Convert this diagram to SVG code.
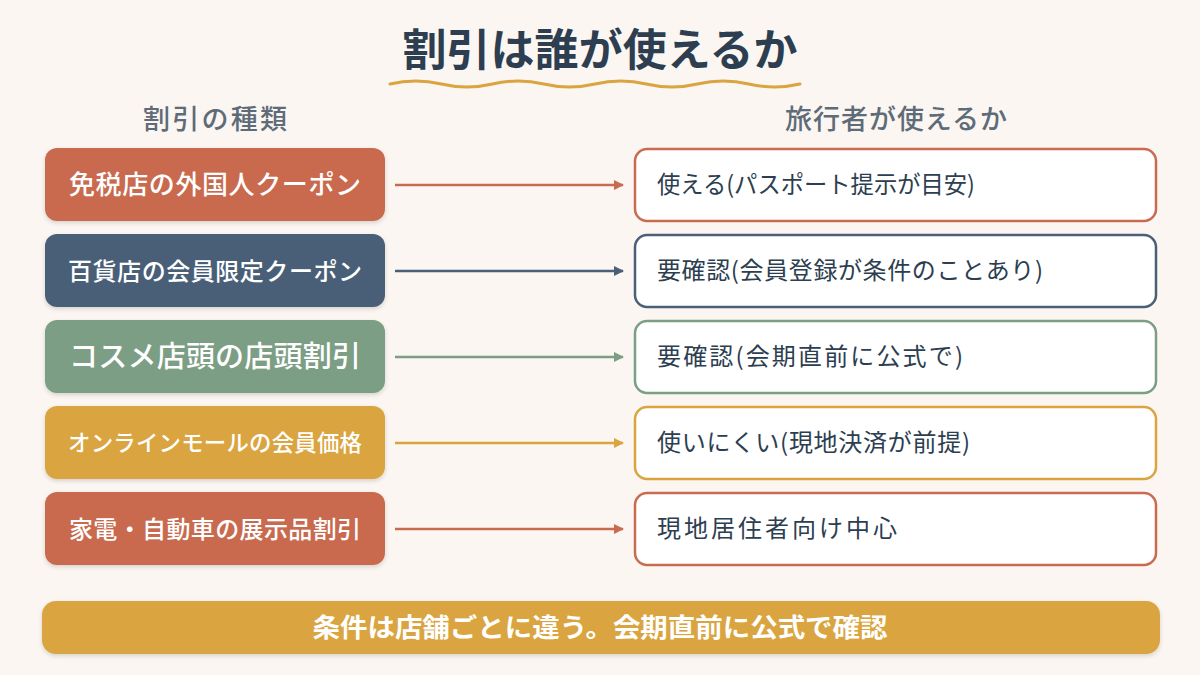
<svg xmlns="http://www.w3.org/2000/svg" width="1200" height="675" viewBox="0 0 1200 675">
  <defs>
    <filter id="sh" x="-10%" y="-20%" width="120%" height="150%">
      <feDropShadow dx="0" dy="2" stdDeviation="2" flood-color="#000" flood-opacity="0.15"/>
    </filter>
    <marker id="a-terra" viewBox="0 0 10 10" refX="9" refY="5" markerWidth="10" markerHeight="10" markerUnits="userSpaceOnUse" orient="auto"><path d="M0,0 L10,5 L0,10 Z" fill="#C96B50"/></marker>
    <marker id="a-slate" viewBox="0 0 10 10" refX="9" refY="5" markerWidth="10" markerHeight="10" markerUnits="userSpaceOnUse" orient="auto"><path d="M0,0 L10,5 L0,10 Z" fill="#4A5F78"/></marker>
    <marker id="a-sage" viewBox="0 0 10 10" refX="9" refY="5" markerWidth="10" markerHeight="10" markerUnits="userSpaceOnUse" orient="auto"><path d="M0,0 L10,5 L0,10 Z" fill="#7C9E84"/></marker>
    <marker id="a-must" viewBox="0 0 10 10" refX="9" refY="5" markerWidth="10" markerHeight="10" markerUnits="userSpaceOnUse" orient="auto"><path d="M0,0 L10,5 L0,10 Z" fill="#DAA540"/></marker>
  </defs>
  <style>
    text { font-family: "Noto Sans CJK JP", "Noto Sans", sans-serif; }
    .title { font-size: 44px; font-weight: 700; fill: #2C3E50; text-anchor: middle; }
    .head { font-size: 27px; font-weight: 500; fill: #5E6B78; text-anchor: middle; }
    .lbox { filter: url(#sh); }
    .ltxt { fill: #FFFFFF; font-weight: 500; text-anchor: middle; }
    .rbox { fill: #FFFFFF; stroke-width: 2.5; }
    .rtxt { font-size: 24px; fill: #2C3E50; }
    .conn { stroke-width: 2.5; fill: none; }
    .terra { fill: #C96B50; } .slate { fill: #4A5F78; } .sage { fill: #7C9E84; } .must { fill: #DAA540; }
    .s-terra { stroke: #C96B50; } .s-slate { stroke: #4A5F78; } .s-sage { stroke: #7C9E84; } .s-must { stroke: #DAA540; }
  </style>
  <rect width="1200" height="675" fill="#FBF6F1"/>

  <g id="title">
    <text class="title" x="600" y="66" textLength="395" lengthAdjust="spacing">割引は誰が使えるか</text>
    <path d="M390 84 q25.6 -6 51.25 0 t51.25 0 t51.25 0 t51.25 0 t51.25 0 t51.25 0 t51.25 0 t51.25 0" fill="none" stroke="#DAA540" stroke-width="3" stroke-linecap="round"/>
  </g>

  <g id="headers">
    <text class="head" x="215" y="129" textLength="144" lengthAdjust="spacing">割引の種類</text>
    <text class="head" x="896" y="129" textLength="222" lengthAdjust="spacing">旅行者が使えるか</text>
  </g>

  <g id="connectors">
    <line class="conn s-terra" x1="395" y1="185" x2="623" y2="185" marker-end="url(#a-terra)"/>
    <line class="conn s-slate" x1="395" y1="271" x2="623" y2="271" marker-end="url(#a-slate)"/>
    <line class="conn s-sage" x1="395" y1="357" x2="623" y2="357" marker-end="url(#a-sage)"/>
    <line class="conn s-must" x1="395" y1="443" x2="623" y2="443" marker-end="url(#a-must)"/>
    <line class="conn s-terra" x1="395" y1="529" x2="623" y2="529" marker-end="url(#a-terra)"/>
  </g>

  <g id="left1">
    <rect class="lbox terra" x="45" y="148" width="340" height="73" rx="12"/>
    <text class="ltxt" x="215" y="194" font-size="26" textLength="292" lengthAdjust="spacing">免税店の外国人クーポン</text>
  </g>
  <g id="left2">
    <rect class="lbox slate" x="45" y="234" width="340" height="73" rx="12"/>
    <text class="ltxt" x="215" y="279.5" font-size="24" textLength="294" lengthAdjust="spacing">百貨店の会員限定クーポン</text>
  </g>
  <g id="left3">
    <rect class="lbox sage" x="45" y="320" width="340" height="73" rx="12"/>
    <text class="ltxt" x="215" y="367" font-size="29" textLength="292" lengthAdjust="spacing">コスメ店頭の店頭割引</text>
  </g>
  <g id="left4">
    <rect class="lbox must" x="45" y="406" width="340" height="73" rx="12"/>
    <text class="ltxt" x="215" y="451" font-size="22.4" textLength="294" lengthAdjust="spacing">オンラインモールの会員価格</text>
  </g>
  <g id="left5">
    <rect class="lbox terra" x="45" y="492" width="340" height="73" rx="12"/>
    <text class="ltxt" x="215" y="537.5" font-size="24" textLength="292" lengthAdjust="spacing">家電・自動車の展示品割引</text>
  </g>

  <g id="right1">
    <rect class="rbox s-terra" x="635" y="149" width="521" height="72" rx="12"/>
    <text class="rtxt" x="657" y="193" textLength="318" lengthAdjust="spacingAndGlyphs">使える(パスポート提示が目安)</text>
  </g>
  <g id="right2">
    <rect class="rbox s-slate" x="635" y="235" width="521" height="72" rx="12"/>
    <text class="rtxt" x="657" y="279" textLength="386" lengthAdjust="spacing">要確認(会員登録が条件のことあり)</text>
  </g>
  <g id="right3">
    <rect class="rbox s-sage" x="635" y="321" width="521" height="72" rx="12"/>
    <text class="rtxt" x="657" y="365" textLength="306" lengthAdjust="spacing">要確認(会期直前に公式で)</text>
  </g>
  <g id="right4">
    <rect class="rbox s-must" x="635" y="407" width="521" height="72" rx="12"/>
    <text class="rtxt" x="657" y="451" textLength="313" lengthAdjust="spacing">使いにくい(現地決済が前提)</text>
  </g>
  <g id="right5">
    <rect class="rbox s-terra" x="635" y="493" width="521" height="72" rx="12"/>
    <text class="rtxt" x="657" y="537" textLength="240" lengthAdjust="spacing">現地居住者向け中心</text>
  </g>

  <g id="footer">
    <rect class="must" x="42" y="601" width="1118" height="53" rx="14" filter="url(#sh)"/>
    <text x="600" y="637" font-size="26" font-weight="700" fill="#FFFFFF" text-anchor="middle" textLength="575" lengthAdjust="spacingAndGlyphs">条件は店舗ごとに違う。会期直前に公式で確認</text>
  </g>
</svg>
